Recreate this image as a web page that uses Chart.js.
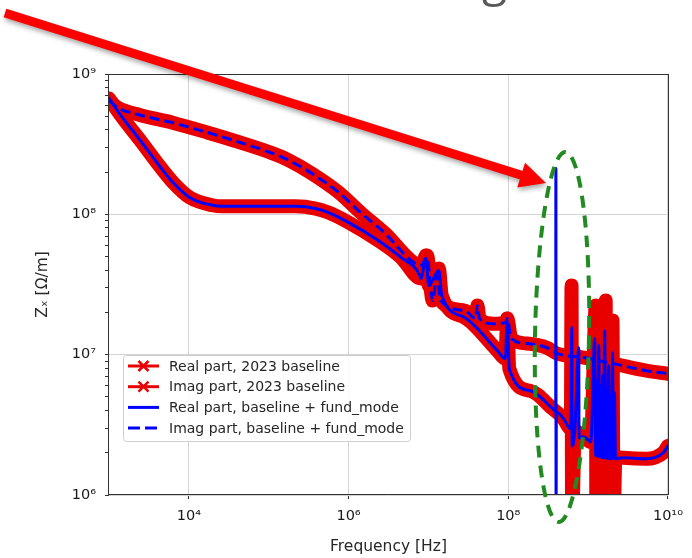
<!DOCTYPE html>
<html>
<head>
<meta charset="utf-8">
<script src="https://cdn.jsdelivr.net/npm/chart.js@4.4.1/dist/chart.umd.min.js"></script>
<style>
  html, body { margin: 0; padding: 0; background: #fff; }
  #wrap { position: relative; width: 692px; height: 558px; }
</style>
</head>
<body>
<div id="wrap"><canvas id="chart-impedance" width="692" height="558"></canvas></div>
<script>
// Datos: frecuencia [Hz] e impedancia [Ohm/m]
const labels = [
  'Real part, 2023 baseline',
  'Imag part, 2023 baseline',
  'Real part, baseline + fund_mode',
  'Imag part, baseline + fund_mode'
];

const xTickValues = [1e4, 1e6, 1e8, 1e10];
const yTickValues = [1e6, 1e7, 1e8, 1e9];

// baseline + fund_mode, parte real (línea azul continua)
const fmRealFreq = [
  1e3, 1.49e3, 2.43e3, 3.95e3, 6.25e3, 1.02e4, 1.97e4, 2.62e4, 6.93e4, 2.18e5,
  3.86e5, 5.61e5, 9.95e5, 2.35e6,
  4.54e6, 7.82e6, 8.04e6, 9.29e6, 1.01e7, 1.35e7, 1.47e7, 2.84e7, 7.29e7, 9.18e7,
  9.72e7, 1.03e8, 1.88e8, 3.63e8, 3.93e8, 3.95e8, 3.97e8, 4.0e8, 4.83e8, 6.08e8,
  6.25e8, 6.3e8, 6.81e8, 7.64e8, 7.7e8, 8.81e8, 1.08e9,
  1.21e9, 1.24e9, 1.28e9, 1.32e9, 1.36e9, 1.40e9, 1.44e9, 1.48e9, 1.52e9, 1.56e9, 1.61e9,
  1.66e9, 1.70e9, 1.75e9, 1.80e9, 1.85e9, 1.91e9, 1.96e9, 2.02e9, 2.08e9, 2.14e9, 2.20e9,
  2.77e9, 5.36e9, 8.71e9, 1e10
];
const fmRealVals = [
  6.7e8, 4.85e8, 3.4e8, 2.35e8, 1.7e8, 1.32e8, 1.16e8, 1.14e8, 1.14e8, 1.14e8,
  1.1e8, 1.03e8, 8.77e7, 6.52e7,
  4.93e7, 3.67e7, 3.49e7, 4.85e7, 3.11e7, 3.98e7, 2.64e7, 1.84e7, 1.07e7, 9.35e6,
  1.75e7, 7.94e6, 5.53e6, 4.1e6, 3.92e6, 2.13e8, 6.5e5, 3.9e6, 3.55e6, 2.96e6,
  1.56e7, 2.24e6, 2.86e6, 1.12e7, 2.55e6, 2.6e6, 2.39e6,
  1.30e7, 1.90e6, 6.52e6, 1.87e6, 1.16e7, 1.87e6, 6.01e6, 1.84e6, 7.08e6, 1.84e6, 1.48e7,
  1.84e6, 5.53e6, 1.81e6, 8.35e6, 1.81e6, 5.09e6, 1.81e6, 1.03e7, 1.81e6, 5.36e6, 1.81e6,
  1.84e6, 1.81e6, 2.0e6, 2.24e6
];

// parte imaginaria (misma rejilla de frecuencias para ambos casos)
const imagFreq = [
  1e3, 1.26e3, 2.43e3, 6.25e3, 1.66e4, 4.26e4, 1.10e5, 1.78e5, 3.44e5, 7.46e5,
  1.44e6, 2.87e6, 6.04e6, 8.04e6, 9.6e6, 1.13e7, 1.28e7, 1.42e7, 2.84e7, 3.89e7,
  4.11e7, 4.36e7, 6.70e7, 9.18e7, 9.72e7, 1.09e8, 1.72e8, 3.05e8, 4.06e8, 8.81e8,
  2.08e9, 5.36e9, 1e10
];
const fmImagVals = [
  6.5e8, 5.8e8, 5.1e8, 4.5e8, 3.85e8, 3.27e8, 2.73e8, 2.43e8, 1.96e8, 1.44e8,
  1.02e8, 7.31e7, 4.69e7, 4.33e7, 4.93e7, 2.43e7, 3.66e7, 2.43e7, 2.06e7, 1.81e7,
  2.24e7, 1.81e7, 1.66e7, 1.69e7, 1.81e7, 1.30e7, 1.20e7, 1.12e7, 1.02e7, 9.53e6,
  8.63e6, 7.69e6, 7.31e6
];
const baseImagVals = [
  6.5e8, 5.8e8, 5.1e8, 4.5e8, 3.85e8, 3.27e8, 2.73e8, 2.43e8, 1.96e8, 1.44e8,
  1.02e8, 7.31e7, 4.69e7, 4.33e7, 5.09e7, 2.43e7, 3.98e7, 2.43e7, 2.06e7, 1.81e7,
  2.24e7, 1.81e7, 1.66e7, 1.69e7, 1.81e7, 1.30e7, 1.20e7, 1.12e7, 1.02e7, 9.53e6,
  8.63e6, 7.69e6, 7.31e6
];

// 2023 baseline, parte real (banda roja)
const baseRealFreq = [
  1e3, 1.49e3, 2.43e3, 3.95e3, 6.25e3, 1.02e4, 1.97e4, 2.62e4, 6.93e4, 2.18e5,
  3.86e5, 5.61e5, 9.95e5, 2.35e6,
  4.54e6, 8.04e6, 9.29e6, 1.01e7, 1.35e7, 1.47e7, 2.84e7, 7.29e7, 9.18e7, 9.72e7,
  1.03e8, 1.88e8, 3.63e8, 4.83e8, 6.08e8, 6.2e8, 6.3e8, 6.81e8, 8.81e8, 1.08e9,
  1.25e9, 1.27e9, 1.66e9, 1.68e9, 2.02e9, 2.08e9, 2.20e9, 2.77e9, 5.36e9, 8.71e9,
  1e10
];
const baseRealVals = [
  6.7e8, 4.85e8, 3.4e8, 2.35e8, 1.7e8, 1.32e8, 1.16e8, 1.14e8, 1.14e8, 1.14e8,
  1.1e8, 1.03e8, 8.77e7, 6.52e7,
  4.93e7, 3.49e7, 5.09e7, 3.11e7, 4.11e7, 2.64e7, 1.84e7, 1.07e7, 9.35e6, 1.81e7,
  7.94e6, 5.53e6, 4.1e6, 3.55e6, 2.96e6, 3.11e7, 6.5e5, 2.86e6, 2.6e6, 2.39e6,
  2.24e7, 6.5e5, 2.43e7, 6.5e5, 1.75e7, 6.5e5, 1.87e6, 1.84e6, 1.81e6, 2.0e6,
  2.24e6
];

const toPoints = (xs, ys) => xs.map((x, i) => ({ x: x, y: ys[i] }));

const SUP = { '0': '⁰', '1': '¹', '2': '²', '3': '³', '4': '⁴', '5': '⁵', '6': '⁶', '7': '⁷', '8': '⁸', '9': '⁹' };
const powLabel = (v) => {
  const e = Math.round(Math.log10(v));
  return '10' + String(e).split('').map(d => SUP[d]).join('');
};
const isPow10 = (v) => Math.abs(Math.log10(v) - Math.round(Math.log10(v))) < 1e-9;

const RED = 'rgb(232,0,0)';
const BLUE = '#0000ff';
const FONT = 'DejaVu Sans';

// Decoración: marco, leyenda, elipse verde, flecha roja
const overlayPlugin = {
  id: 'overlay',
  afterDraw(chart) {
    const { ctx, chartArea: a } = chart;
    ctx.save();

    // marco de los ejes
    ctx.strokeStyle = '#333';
    ctx.lineWidth = 1;
    ctx.setLineDash([]);
    ctx.strokeRect(Math.round(a.left) - 0.5, Math.round(a.top) + 0.5,
      Math.round(a.right - a.left) + 1, Math.round(a.bottom - a.top) - 1);

    // leyenda dentro del área
    const bx = 123, by = 355, bw = 287, bh = 86;
    ctx.fillStyle = 'rgba(255,255,255,0.85)';
    ctx.strokeStyle = '#cfcfcf';
    ctx.beginPath();
    ctx.roundRect(bx + 0.5, by + 0.5, bw, bh, 3);
    ctx.fill();
    ctx.stroke();

    ctx.font = '14px "' + FONT + '"';
    ctx.textBaseline = 'middle';
    chart.data.datasets.forEach((ds, i) => {
      const y = 366 + i * 20.7;
      ctx.strokeStyle = ds.borderColor;
      ctx.lineWidth = 3;
      ctx.setLineDash(ds.borderDash && ds.borderDash.length ? [12, 5] : []);
      ctx.beginPath();
      ctx.moveTo(128, y);
      ctx.lineTo(159, y);
      ctx.stroke();
      ctx.setLineDash([]);
      if (ds.legendMarker === 'x') {
        ctx.lineWidth = 2.5;
        ctx.beginPath();
        ctx.moveTo(138.5, y - 5); ctx.lineTo(148.5, y + 5);
        ctx.moveTo(148.5, y - 5); ctx.lineTo(138.5, y + 5);
        ctx.stroke();
      }
      ctx.fillStyle = '#262626';
      ctx.fillText(ds.label, 169, y + 1);
    });

    // elipse verde discontinua
    ctx.strokeStyle = '#218a21';
    ctx.lineWidth = 4;
    ctx.setLineDash([12, 8]);
    ctx.beginPath();
    ctx.ellipse(562, 337, 27, 185, 0.018, 0, Math.PI * 2);
    ctx.stroke();
    ctx.setLineDash([]);

    // letra cortada del título de la diapositiva
    ctx.fillStyle = '#595959';
    ctx.font = '46px "Open Sans"';
    ctx.textBaseline = 'alphabetic';
    ctx.fillText('g', 482, -4);

    // flecha roja con sombra
    const x0 = 5, y0 = 13, tx = 546, ty = 183;
    const ang = Math.atan2(ty - y0, tx - x0);
    const ux = Math.cos(ang), uy = Math.sin(ang);
    const hl = 26, hw = 13;
    const bxh = tx - hl * ux, byh = ty - hl * uy;
    ctx.shadowColor = 'rgba(0,0,0,0.35)';
    ctx.shadowBlur = 5;
    ctx.shadowOffsetX = 1;
    ctx.shadowOffsetY = 3;
    ctx.fillStyle = '#ff0000';
    ctx.strokeStyle = '#ff0000';
    ctx.lineWidth = 9;
    ctx.beginPath();
    ctx.moveTo(x0, y0);
    ctx.lineTo(bxh + 2 * ux, byh + 2 * uy);
    ctx.stroke();
    ctx.beginPath();
    ctx.moveTo(tx, ty);
    ctx.lineTo(bxh - hw * uy, byh + hw * ux);
    ctx.lineTo(bxh + hw * uy, byh - hw * ux);
    ctx.closePath();
    ctx.fill();

    ctx.restore();
  }
};

const lineBase = {
  pointRadius: 0,
  fill: false,
  cubicInterpolationMode: 'monotone',
  clip: 0,
  borderJoinStyle: 'round',
  borderCapStyle: 'round'
};

const ctx = document.getElementById('chart-impedance');
new Chart(ctx, {
  type: 'line',
  data: {
    datasets: [
      { ...lineBase, label: labels[0], data: toPoints(baseRealFreq, baseRealVals), borderColor: RED, borderWidth: 14, order: 2, legendMarker: 'x' },
      { ...lineBase, label: labels[1], data: toPoints(imagFreq, baseImagVals), borderColor: RED, borderWidth: 14, order: 2, legendMarker: 'x' },
      { ...lineBase, label: labels[2], data: toPoints(fmRealFreq, fmRealVals), borderColor: BLUE, borderWidth: 3, order: 1 },
      { ...lineBase, label: labels[3], data: toPoints(imagFreq, fmImagVals), borderColor: BLUE, borderWidth: 3, borderDash: [10, 5], borderCapStyle: 'butt', order: 1 }
    ]
  },
  options: {
    responsive: false,
    animation: false,
    events: [],
    devicePixelRatio: 1,
    layout: { padding: { left: 0, right: 20, top: 74, bottom: 0 } },
    scales: {
      x: {
        type: 'logarithmic',
        min: 1e3,
        max: 1e10,
        afterBuildTicks: (scale) => { scale.ticks = xTickValues.map(v => ({ value: v })); },
        afterFit: (scale) => { scale.height = 63; },
        ticks: {
          autoSkip: false,
          maxRotation: 0,
          padding: 9,
          color: '#1a1a1a',
          font: { family: FONT, size: 14.5 },
          callback: (v) => powLabel(v)
        },
        grid: { color: '#d4d4d4', lineWidth: 1, tickLength: 4, tickColor: '#333' },
        border: { display: false },
        title: {
          display: true,
          text: 'Frequency [Hz]',
          color: '#262626',
          font: { family: FONT, size: 15.5 },
          padding: { top: 0, bottom: 2 }
        }
      },
      y: {
        type: 'logarithmic',
        min: 1e6,
        max: 1e9,
        afterBuildTicks: (scale) => {
          const ticks = [];
          yTickValues.forEach((d, i) => {
            ticks.push({ value: d });
            if (i < yTickValues.length - 1) {
              for (let m = 2; m <= 9; m++) ticks.push({ value: m * d });
            }
          });
          scale.ticks = ticks;
        },
        afterFit: (scale) => { scale.width = 109; },
        ticks: {
          autoSkip: false,
          padding: 9,
          color: '#1a1a1a',
          font: { family: FONT, size: 14.5 },
          callback: (v) => (isPow10(v) ? powLabel(v) : '')
        },
        grid: {
          color: (c) => (c.tick && isPow10(c.tick.value) ? '#d4d4d4' : 'rgba(0,0,0,0)'),
          lineWidth: 1,
          tickLength: 4,
          tickColor: '#333'
        },
        border: { display: false },
        title: {
          display: true,
          text: 'Zₓ [Ω/m]',
          color: '#262626',
          font: { family: FONT, size: 15.5 },
          padding: { top: 34, bottom: 0 }
        }
      }
    },
    plugins: {
      legend: { display: false },
      tooltip: { enabled: false }
    }
  },
  plugins: [overlayPlugin]
});
</script>
</body>
</html>
